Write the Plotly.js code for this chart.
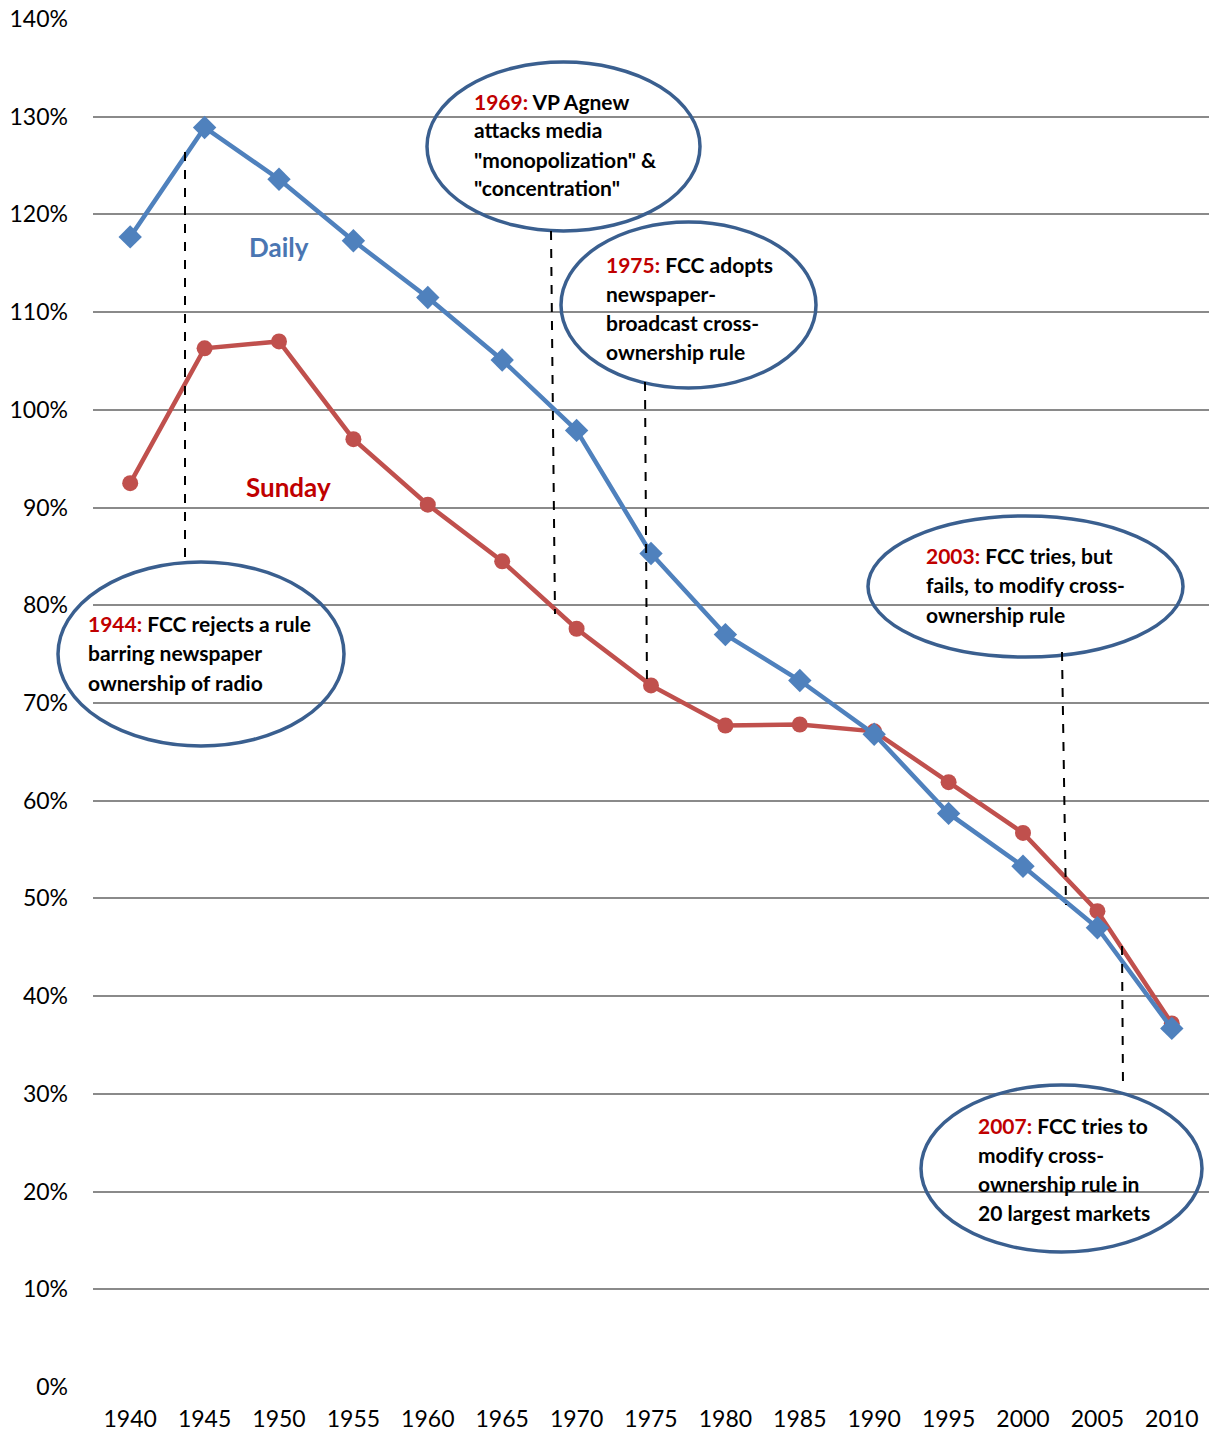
<!DOCTYPE html>
<html>
<head>
<meta charset="utf-8">
<script src="https://cdn.plot.ly/plotly-3.0.1.min.js"></script>
<style>
  html, body { margin: 0; padding: 0; background: #ffffff; }
  #chart { width: 1209px; height: 1434px; }
</style>
</head>
<body>
<div id="chart"></div>
<script>
// ---- data ----
var years = [1940, 1945, 1950, 1955, 1960, 1965, 1970, 1975, 1980, 1985, 1990, 1995, 2000, 2005, 2010];
var daily = [117.7, 128.9, 123.6, 117.3, 111.5, 105.1, 97.9, 85.3, 77.0, 72.3, 66.8, 58.7, 53.3, 47.0, 36.7];
var sunday = [92.5, 106.3, 107.0, 97.0, 90.3, 84.5, 77.6, 71.8, 67.7, 67.8, 67.1, 61.9, 56.7, 48.7, 37.2];
var yTicks = [0, 10, 20, 30, 40, 50, 60, 70, 80, 90, 100, 110, 120, 130, 140];

var eventYears = ["1944:", "1969:", "1975:", "2003:", "2007:"];
var eventLines = [
  [" FCC rejects a rule", "barring newspaper", "ownership of radio"],
  [" VP Agnew", "attacks media", "\"monopolization\" &amp;", "\"concentration\""],
  [" FCC adopts", "newspaper-", "broadcast cross-", "ownership rule"],
  [" FCC tries, but", "fails, to modify cross-", "ownership rule"],
  [" FCC tries to", "modify cross-", "ownership rule in", "20 largest markets"]
];

// ---- layout geometry (pixels) ----
var W = 1209, H = 1434;
var M = {l: 93, r: 0, t: 19, b: 47};
var PW = W - M.l - M.r, PH = H - M.t - M.b;
function px(x) { return (x - M.l) / PW; }
function py(y) { return (H - M.b - y) / PH; }

// ellipse boxes [x0, y0, x1, y1] in pixels
var ellBoxes = [
  [58, 562, 344, 746],
  [427, 62, 700, 231],
  [561, 222, 816, 388],
  [868, 516, 1183, 657],
  [921, 1085, 1202, 1252]
];
// connector dashed lines [x0, y0, x1, y1]
var connectors = [
  [185, 152, 185, 562],
  [551, 231, 555, 614],
  [645, 382, 647, 686],
  [1062, 652, 1066, 905],
  [1122, 946, 1123, 1086]
];
// text block: left x, first line center y, line step
var textPos = [
  [86, 623, 29.5],
  [472, 101, 29],
  [604, 264, 29.3],
  [924, 555, 29.5],
  [976, 1125, 29.3]
];

var ellColor = "#3A5F8F";
var shapes = [];
ellBoxes.forEach(function (b) {
  shapes.push({type: "circle", xref: "paper", yref: "paper",
    x0: px(b[0]), x1: px(b[2]), y0: py(b[3]), y1: py(b[1]),
    line: {color: ellColor, width: 3.5}, fillcolor: "rgba(0,0,0,0)", layer: "above"});
});
connectors.forEach(function (c) {
  shapes.push({type: "line", xref: "paper", yref: "paper",
    x0: px(c[0]), x1: px(c[2]), y0: py(c[1]), y1: py(c[3]),
    line: {color: "#000000", width: 2, dash: "dash"}, layer: "above"});
});

var annFont = {family: "Lato, 'Open Sans', sans-serif", size: 21, color: "#000000"};
var annotations = [];
eventLines.forEach(function (lines, i) {
  var tp = textPos[i];
  lines.forEach(function (ln, j) {
    var txt = (j === 0 ? "<span style='color:#C00000'>" + eventYears[i] + "</span>" : "") + ln;
    annotations.push({xref: "paper", yref: "paper", x: px(tp[0]), y: py(tp[1] + j * tp[2]),
      xanchor: "left", yanchor: "middle", showarrow: false, align: "left",
      text: "<b>" + txt + "</b>", font: annFont});
  });
});
annotations.push({xref: "paper", yref: "paper", x: px(279), y: py(247), xanchor: "center", yanchor: "middle",
  showarrow: false, text: "<b>Daily</b>", font: {family: "Lato, sans-serif", size: 26, color: "#4A76B2"}});
annotations.push({xref: "paper", yref: "paper", x: px(288), y: py(487), xanchor: "center", yanchor: "middle",
  showarrow: false, text: "<b>Sunday</b>", font: {family: "Lato, sans-serif", size: 26, color: "#C00000"}});

var traces = [
  {x: years, y: sunday, type: "scatter", mode: "lines+markers", name: "Sunday",
   line: {color: "#C0504D", width: 4.5}, marker: {symbol: "circle", size: 16, color: "#C0504D"}},
  {x: years, y: daily, type: "scatter", mode: "lines+markers", name: "Daily",
   line: {color: "#4F81BD", width: 4.5}, marker: {symbol: "diamond", size: 18, color: "#4F81BD"}}
];

var layout = {
  width: W, height: H,
  margin: M,
  paper_bgcolor: "#ffffff", plot_bgcolor: "#ffffff",
  showlegend: false,
  font: {family: "Lato, 'Open Sans', sans-serif", size: 23, color: "#000000"},
  xaxis: {range: [1937.5, 2012.5], tickvals: years, ticktext: years.map(String),
    showgrid: false, zeroline: false, showline: false, ticks: "", ticklabelstandoff: 16,
    fixedrange: true},
  yaxis: {range: [0, 140], tickvals: yTicks, ticktext: yTicks.map(function (v) { return v + "%"; }),
    showgrid: true, gridcolor: "#8A8A8A", gridwidth: 2, zeroline: false, showline: false,
    ticks: "", ticklabelstandoff: 24, fixedrange: true},
  shapes: shapes,
  annotations: annotations
};

Plotly.newPlot("chart", traces, layout, {displayModeBar: false, staticPlot: true});
</script>
</body>
</html>
